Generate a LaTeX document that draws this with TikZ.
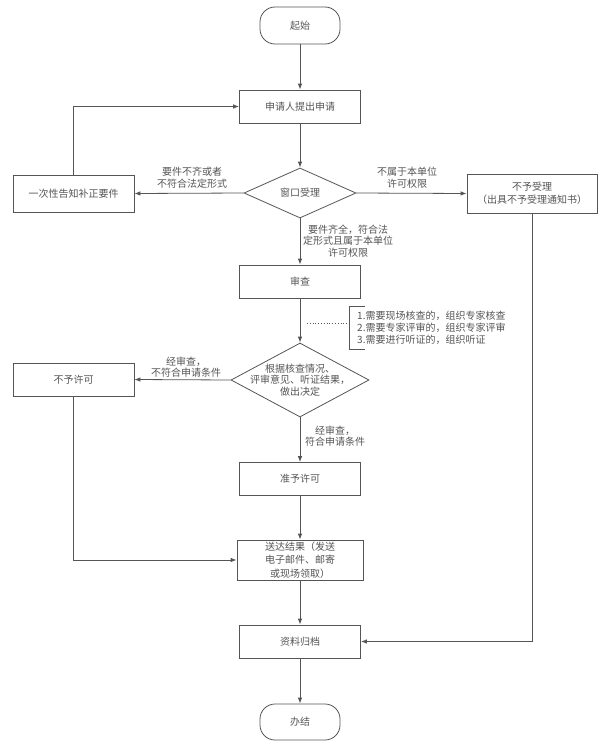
\documentclass[tikz,border=0pt]{standalone}
\usepackage{fontspec}
\setmainfont{Noto Sans CJK SC}
\usetikzlibrary{shapes.geometric,arrows.meta}
\definecolor{ln}{HTML}{555555}
\definecolor{tx}{HTML}{555555}
\begin{document}
\begin{tikzpicture}[x=1pt,y=-1pt,
  font=\fontsize{10}{11.5}\selectfont, text=tx,
  box/.style={draw=ln, line width=0.8pt, rectangle, inner sep=0pt,
    minimum width=121pt, minimum height=33pt, align=center,
    font=\fontsize{10}{13.5}\selectfont},
  term/.style={draw=ln, line width=0.8pt, rectangle, rounded corners=15pt,
    inner sep=0pt, minimum width=80pt, minimum height=37pt},
  dia/.style={draw=ln, line width=0.8pt, diamond, inner sep=0pt},
  arr/.style={draw=ln, line width=0.8pt, -{Latex[length=6pt,width=4.5pt]}},
  plain/.style={draw=ln, line width=0.8pt},
  lbl/.style={align=center, inner sep=0pt}]
\fill[white] (0,0) rectangle (601,744);
\useasboundingbox (0,0) rectangle (601,744);

\node[term] (start) at (300,25.5) {起始};
\node[box] (apply) at (300,106.5) {申请人提出申请};
\node[dia, minimum width=112pt, minimum height=50pt] (d1) at (300,193) {窗口受理};
\node[box, minimum height=37pt] (notify) at (73.5,193.5) {一次性告知补正要件};
\node[box, minimum width=130pt, minimum height=39pt] (reject) at (532,193.5) {不予受理\\（出具不予受理通知书）};
\node[box] (review) at (300,281.5) {审查};
\node[dia, minimum width=138pt, minimum height=74pt] (d2) at (300,380) {};
\node[lbl, font=\fontsize{10}{11.5}\selectfont] at (d2.center) {根据核查情况、\\评审意见、听证结果，\\做出决定};
\node[box] (deny) at (73.5,379.5) {不予许可};
\node[box] (grant) at (300,479) {准予许可};
\node[box, minimum width=126pt, minimum height=40pt] (deliver) at (300,560) {送达结果（发送\\电子邮件、邮寄\\或现场领取）};
\node[box] (archive) at (300,641.5) {资料归档};
\node[term, minimum height=36pt] (finish) at (300,722) {办结};

% annotation
\coordinate (bt) at (365,306);
\coordinate (bb) at (365,349);
\draw[plain] (bt) -- (349,306) -- (349,349) -- (bb);
\coordinate (dotA) at (307,323);
\coordinate (dotB) at (347,323);
\draw[ln, line width=0.8pt, dotted] (dotA) -- (dotB);
\node[lbl, align=left, anchor=west, font=\fontsize{10}{11.8}\selectfont] (note) at (357,327.5)
 {1.需要现场核查的，组织专家核查\\2.需要专家评审的，组织专家评审\\3.需要进行听证的，组织听证};

% connectors
\draw[arr] (start) -- (apply);
\draw[arr] (apply) -- (d1.north);
\draw[arr] (d1.west) -- (notify.east);
\draw[arr] (notify.north) |- (apply.west);
\draw[arr] (d1.east) -- (reject.west);
\draw[arr] (d1.south) -- (review.north);
\draw[arr] (reject.south) |- (archive.east);
\draw[arr] (review.south) -- (d2.north);
\draw[arr] (d2.west) -- (deny.east);
\draw[arr] (d2.south) -- (grant.north);
\draw[arr] (deny.south) |- (deliver.west);
\draw[arr] (grant) -- (deliver);
\draw[arr] (deliver) -- (archive);
\draw[arr] (archive) -- (finish);

% edge labels
\node[lbl] (l1) at (192,177.5) {要件不齐或者\\不符合法定形式};
\node[lbl] (l2) at (407,177.5) {不属于本单位\\许可权限};
\node[lbl] (l3) at (348,241) {要件齐全，符合法\\定形式且属于本单位\\许可权限};
\node[lbl] (l4) at (186,367) {经审查，\\不符合申请条件};
\node[lbl] (l5) at (335,436) {经审查，\\符合申请条件};
\end{tikzpicture}
\end{document}
